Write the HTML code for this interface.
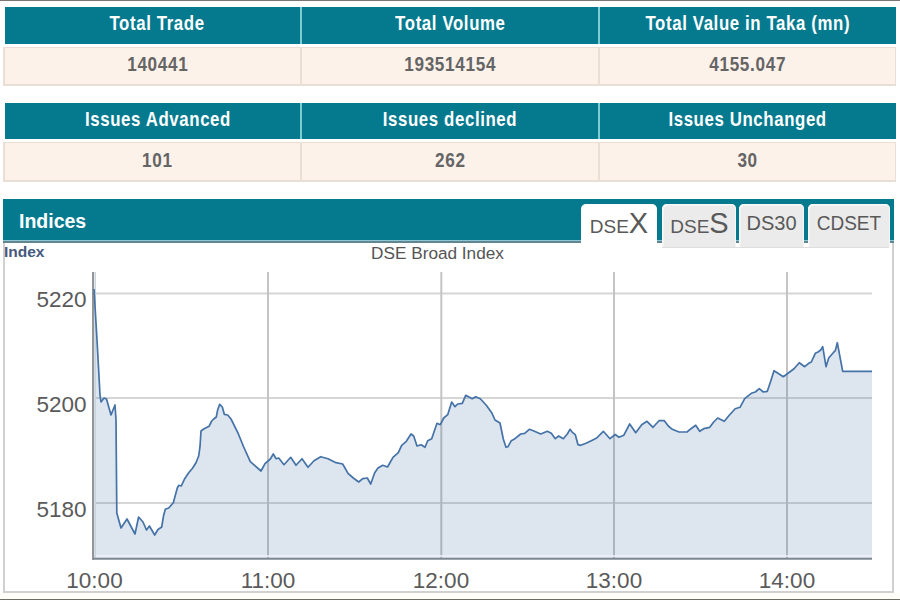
<!DOCTYPE html>
<html><head><meta charset="utf-8"><title>DSE Market Summary</title>
<style>
*{margin:0;padding:0;box-sizing:border-box}
html,body{width:900px;height:600px;overflow:hidden;background:#fff}
body{position:relative;font-family:"Liberation Sans",Arial,sans-serif}
.a{position:absolute}
.hdr{position:absolute;left:5px;width:891px;height:37px;background:#057a8f}
.sep{position:absolute;top:0;width:2px;height:100%;background:#7fcbd2}
.row{position:absolute;left:3px;width:893px;height:40px;background:#fdf2ea;border:1px solid #eadfd4;border-width:1px 1px 2px 2px}
.rsep{position:absolute;top:0;width:2px;height:100%;background:#eadfd4}
.ht{position:absolute;top:-3px;height:37px;line-height:37px;color:#fff;font-weight:bold;font-size:20.5px;text-align:center;white-space:nowrap}
.ht span{display:inline-block;transform:scaleX(0.82);letter-spacing:0.75px}
.vt{position:absolute;top:-3.5px;height:38px;line-height:38px;color:#656565;font-weight:bold;font-size:19.5px;text-align:center;white-space:nowrap}
.vt span{display:inline-block;transform:scaleX(0.88);letter-spacing:0.75px}
.tab{position:absolute;top:204px;height:44px;background:#ebebeb;border-radius:5px 5px 0 0;box-shadow:inset 1.5px 1.5px 0 #f9f9f9,inset -1px 0 0 #f6f6f6;color:#595959;text-align:center;white-space:nowrap}
</style></head><body>
<div class="a" style="left:0;top:0;width:900px;height:1px;background:#7b7673"></div>

<div class="hdr" style="top:7px">
  <div class="sep" style="left:295px"></div>
  <div class="sep" style="left:593px"></div>
  <div class="ht" style="left:0;width:305px"><span>Total Trade</span></div>
  <div class="ht" style="left:297px;width:296px"><span>Total Volume</span></div>
  <div class="ht" style="left:595px;width:296px"><span>Total Value in Taka (mn)</span></div>
</div>
<div class="row" style="top:47px;height:39px">
  <div class="rsep" style="left:295px"></div>
  <div class="rsep" style="left:593px"></div>
  <div class="vt" style="left:0;width:305px"><span>140441</span></div>
  <div class="vt" style="left:297px;width:296px"><span>193514154</span></div>
  <div class="vt" style="left:595px;width:296px"><span>4155.047</span></div>
</div>

<div class="hdr" style="top:103px;height:36px">
  <div class="sep" style="left:295px"></div>
  <div class="sep" style="left:593px"></div>
  <div class="ht" style="left:0;width:305px"><span>Issues Advanced</span></div>
  <div class="ht" style="left:297px;width:296px"><span>Issues declined</span></div>
  <div class="ht" style="left:595px;width:296px"><span>Issues Unchanged</span></div>
</div>
<div class="row" style="top:142px;height:40px">
  <div class="rsep" style="left:295px"></div>
  <div class="rsep" style="left:593px"></div>
  <div class="vt" style="top:-2.5px;left:0;width:305px"><span>101</span></div>
  <div class="vt" style="top:-2.5px;left:297px;width:296px"><span>262</span></div>
  <div class="vt" style="top:-2.5px;left:595px;width:296px"><span>30</span></div>
</div>

<!-- chart panel -->
<div class="a" style="left:3px;top:242px;width:891px;height:351px;border:solid #d0d0d0;border-width:0 2px 2px 2px;background:#fff"></div>
<div class="a" style="left:0;top:593px;width:900px;height:6px;background:#fffdf7"></div>
<div class="a" style="left:0;top:599px;width:900px;height:1px;background:#6e6a66"></div>

<!-- indices header -->
<div class="a" style="left:3px;top:199px;width:891px;height:41px;background:#057a8f"></div>
<div class="a" style="left:3px;top:240px;width:891px;height:1px;background:#8fc4d4"></div>
<div class="a" style="left:3px;top:241px;width:891px;height:2px;background:#5f8790"></div>
<div class="a" style="left:19px;top:199px;height:41px;line-height:45px;color:#fff;font-weight:bold;font-size:19.5px">Indices</div>

<div class="tab" style="left:662px;width:74px;line-height:39px;font-size:19px;padding-left:1px">DSE<span style="font-size:29px">S</span></div>
<div class="tab" style="left:739px;width:65px;line-height:39px;font-size:20px">DS30</div>
<div class="tab" style="left:808px;width:82px;line-height:39px;font-size:20px"><span style="display:inline-block;transform:scaleX(0.95)">CDSET</span></div>
<div class="a" style="left:662px;top:247px;width:227px;height:1px;background:#dedede"></div>
<div class="tab" style="left:581px;width:76px;height:50px;background:#fff;box-shadow:none;line-height:39px;font-size:19px">DSE<span style="font-size:29px">X</span></div>

<svg class="a" style="left:0;top:0" width="900" height="600" viewBox="0 0 900 600">
  <g stroke="#d6d6d6" stroke-width="2">
    <line x1="95" y1="293.5" x2="872" y2="293.5"/>
    <line x1="95" y1="398" x2="872" y2="398"/>
    <line x1="95" y1="503" x2="872" y2="503"/>
  </g>
  <g stroke="#c4c4c4" stroke-width="2">
    <line x1="268" y1="272" x2="268" y2="559"/>
    <line x1="441.3" y1="272" x2="441.3" y2="559"/>
    <line x1="614" y1="272" x2="614" y2="559"/>
    <line x1="787" y1="272" x2="787" y2="559"/>
  </g>
  <path d="M94 289 L97 340 L100 395 L101 402 L104 398 L106.5 399 L111 415 L115 405 L116 420 L116.8 513 L121 528 L127 519 L135 534 L138.6 517 L143 522 L146.5 530 L149.4 526 L154.7 535 L158 529.5 L161.7 527 L163.5 516 L165.3 509.3 L168.7 508 L173.3 502.7 L177.3 488 L178.7 485.3 L181.3 486 L184.7 478.7 L188.7 472.7 L192.7 468 L196 462.7 L198.7 456 L200 446.7 L201 431 L203.7 429 L209 426.3 L211.7 421 L213.7 419 L216.3 417 L217.7 409.7 L219.7 404.3 L222.3 407 L224.3 414.3 L227.7 415 L231 419 L238.3 433.7 L243.7 447 L250.3 461.7 L261 471 L265 463.7 L270.3 459 L273.3 454 L276 458.7 L278.7 458 L284 464.7 L290.7 457.3 L296 465.3 L302 458.7 L308 467.3 L314 460.7 L320.7 456.7 L328 458.7 L336 462.7 L342.7 464 L348 473.3 L353.3 478 L358.7 482 L362.7 478.7 L367.3 478 L370.7 484 L374.7 472.7 L378 468 L382.7 465.3 L387.5 467 L393 457.3 L398.3 452.7 L401.7 445.3 L406.3 441.3 L411 434 L413.7 436 L417 446 L421 444.7 L425 447.3 L427.7 440.7 L431.7 438.7 L437 423.3 L440.3 424.7 L443.7 418 L447.7 414.7 L451.7 402 L455 406.7 L457.7 404 L462.3 403.3 L465.7 395.3 L472.3 398.7 L475.7 396.7 L480.3 398.7 L486.3 405.3 L491.7 412.7 L495 420 L500 423 L503.3 439 L506 447.3 L508 446.7 L511.3 440.7 L514 439.3 L520.7 434 L524.7 433.3 L529.3 429.3 L533.3 430.7 L540.7 434 L547.3 431.3 L551.3 433.3 L555.3 438.7 L558.7 436 L563.3 438.7 L567.3 434 L570 429.3 L572.7 432.7 L575.3 434.7 L578 444.7 L580.7 445.3 L586 443.3 L591.3 440.7 L596.7 438 L603.3 431.3 L610 438.7 L615.2 434.5 L619 437.3 L623.7 435.3 L629.7 424 L635.7 432.7 L641.7 424.7 L647 421.3 L653 427.3 L659 420.7 L664.3 420.7 L668.3 426 L672.3 429.3 L679 432 L687 432 L691 428.7 L695.7 425.3 L699.7 431.3 L703.7 428.7 L709.7 427.3 L713.7 422 L717.7 418 L724.3 421.3 L729.7 414.7 L735.2 408.7 L740 407.3 L744.7 398.7 L751.3 393.3 L755.3 392 L759.3 388.7 L763.3 392 L767.3 391.3 L770.7 381.3 L774 370.7 L778 373.3 L783.3 376.7 L786 374.7 L794 368.7 L799.3 362.7 L804.7 366.7 L808.7 363.3 L811.3 362 L815.3 353.3 L818 352 L820.7 350 L822.7 346.7 L826 366.7 L828.7 358 L833.3 352.7 L835.3 350.7 L837.3 342.7 L842.7 371.3 L872 371.3 L872 559 L94 559 Z" fill="rgb(69,114,167)" fill-opacity="0.18" stroke="none"/>
  <line x1="95" y1="556" x2="872" y2="556" stroke="#eef3f8" stroke-width="1.5"/>
  <line x1="95.2" y1="272" x2="95.2" y2="559" stroke="#c9d3de" stroke-width="1.5"/>
  <line x1="93" y1="272" x2="93" y2="560" stroke="#959595" stroke-width="2"/>
  <line x1="93" y1="558.7" x2="872" y2="558.7" stroke="#7e8893" stroke-width="2"/>
  <path d="M94 289 L97 340 L100 395 L101 402 L104 398 L106.5 399 L111 415 L115 405 L116 420 L116.8 513 L121 528 L127 519 L135 534 L138.6 517 L143 522 L146.5 530 L149.4 526 L154.7 535 L158 529.5 L161.7 527 L163.5 516 L165.3 509.3 L168.7 508 L173.3 502.7 L177.3 488 L178.7 485.3 L181.3 486 L184.7 478.7 L188.7 472.7 L192.7 468 L196 462.7 L198.7 456 L200 446.7 L201 431 L203.7 429 L209 426.3 L211.7 421 L213.7 419 L216.3 417 L217.7 409.7 L219.7 404.3 L222.3 407 L224.3 414.3 L227.7 415 L231 419 L238.3 433.7 L243.7 447 L250.3 461.7 L261 471 L265 463.7 L270.3 459 L273.3 454 L276 458.7 L278.7 458 L284 464.7 L290.7 457.3 L296 465.3 L302 458.7 L308 467.3 L314 460.7 L320.7 456.7 L328 458.7 L336 462.7 L342.7 464 L348 473.3 L353.3 478 L358.7 482 L362.7 478.7 L367.3 478 L370.7 484 L374.7 472.7 L378 468 L382.7 465.3 L387.5 467 L393 457.3 L398.3 452.7 L401.7 445.3 L406.3 441.3 L411 434 L413.7 436 L417 446 L421 444.7 L425 447.3 L427.7 440.7 L431.7 438.7 L437 423.3 L440.3 424.7 L443.7 418 L447.7 414.7 L451.7 402 L455 406.7 L457.7 404 L462.3 403.3 L465.7 395.3 L472.3 398.7 L475.7 396.7 L480.3 398.7 L486.3 405.3 L491.7 412.7 L495 420 L500 423 L503.3 439 L506 447.3 L508 446.7 L511.3 440.7 L514 439.3 L520.7 434 L524.7 433.3 L529.3 429.3 L533.3 430.7 L540.7 434 L547.3 431.3 L551.3 433.3 L555.3 438.7 L558.7 436 L563.3 438.7 L567.3 434 L570 429.3 L572.7 432.7 L575.3 434.7 L578 444.7 L580.7 445.3 L586 443.3 L591.3 440.7 L596.7 438 L603.3 431.3 L610 438.7 L615.2 434.5 L619 437.3 L623.7 435.3 L629.7 424 L635.7 432.7 L641.7 424.7 L647 421.3 L653 427.3 L659 420.7 L664.3 420.7 L668.3 426 L672.3 429.3 L679 432 L687 432 L691 428.7 L695.7 425.3 L699.7 431.3 L703.7 428.7 L709.7 427.3 L713.7 422 L717.7 418 L724.3 421.3 L729.7 414.7 L735.2 408.7 L740 407.3 L744.7 398.7 L751.3 393.3 L755.3 392 L759.3 388.7 L763.3 392 L767.3 391.3 L770.7 381.3 L774 370.7 L778 373.3 L783.3 376.7 L786 374.7 L794 368.7 L799.3 362.7 L804.7 366.7 L808.7 363.3 L811.3 362 L815.3 353.3 L818 352 L820.7 350 L822.7 346.7 L826 366.7 L828.7 358 L833.3 352.7 L835.3 350.7 L837.3 342.7 L842.7 371.3 L872 371.3" fill="none" stroke="#4572a7" stroke-width="1.7" stroke-linejoin="round"/>
  <g font-family="Liberation Sans, Arial, sans-serif" font-size="22.5" fill="#5a5a5a" text-anchor="end">
    <text x="86.5" y="307">5220</text>
    <text x="86.5" y="411.8">5200</text>
    <text x="86.5" y="517.2">5180</text>
  </g>
  <g font-family="Liberation Sans, Arial, sans-serif" font-size="22.5" fill="#5a5a5a" text-anchor="middle">
    <text x="94.5" y="588">10:00</text>
    <text x="268" y="588">11:00</text>
    <text x="441" y="588">12:00</text>
    <text x="614" y="588">13:00</text>
    <text x="787" y="588">14:00</text>
  </g>
  <text x="437.5" y="259" font-family="Liberation Sans, Arial, sans-serif" font-size="17.2" fill="#555" text-anchor="middle">DSE Broad Index</text>
  <text x="4" y="256.5" font-family="Liberation Sans, Arial, sans-serif" font-size="15.5" font-weight="bold" fill="#46587c">Index</text>
</svg>
</body></html>
